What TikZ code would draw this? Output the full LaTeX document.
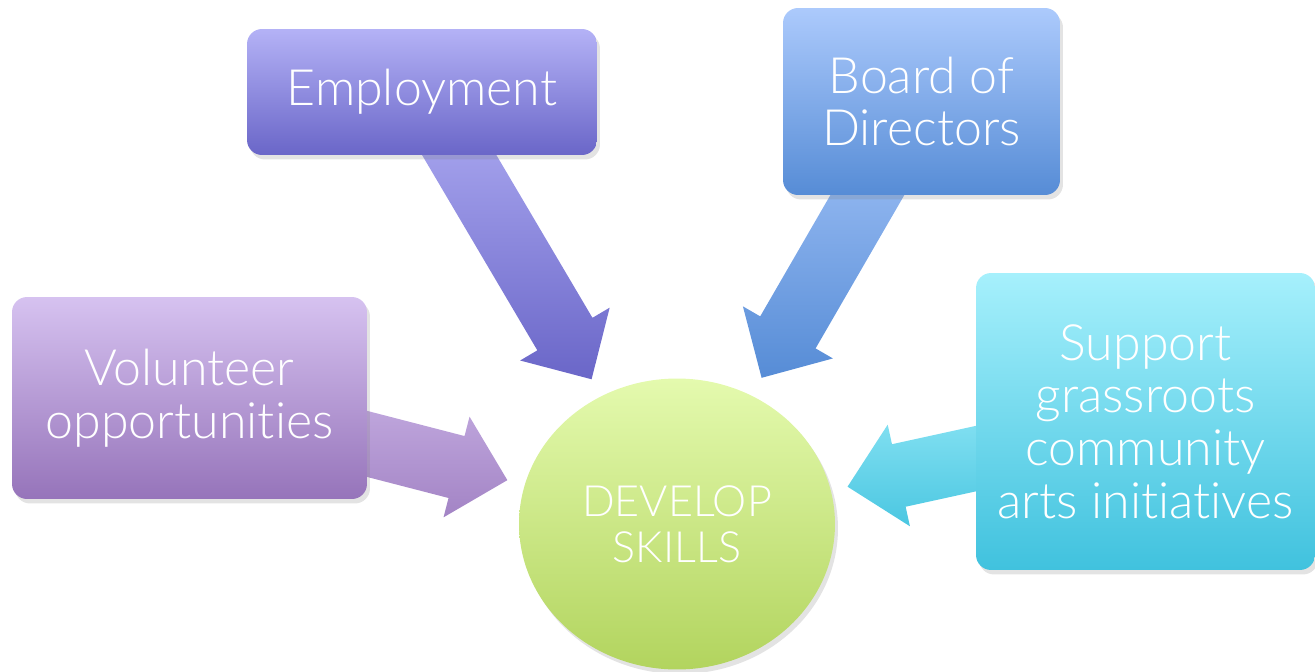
\documentclass[tikz,border=0pt]{standalone}
\usepackage{fontspec}
\setmainfont{Lato Light}[Ligatures={NoCommon,NoRequired,NoContextual}]
\usepackage{tikz}
\usetikzlibrary{calc,shapes.geometric,shadows,backgrounds}

\definecolor{empTop}{RGB}{180,178,246}
\definecolor{empBot}{RGB}{106,102,200}
\definecolor{brdTop}{RGB}{172,202,252}
\definecolor{brdBot}{RGB}{86,140,214}
\definecolor{volTop}{RGB}{214,194,240}
\definecolor{volBot}{RGB}{150,116,186}
\definecolor{supTop}{RGB}{166,240,252}
\definecolor{supBot}{RGB}{64,194,222}
\definecolor{devTop}{RGB}{228,250,174}
\definecolor{devBot}{RGB}{178,212,94}

\tikzset{
  box/.style={rounded corners=0.3cm, text=white, align=center, inner sep=0pt,
    font=\fontsize{28.5}{30}\selectfont,
    drop shadow={shadow xshift=0.6mm, shadow yshift=-0.9mm, opacity=0.22}},
  hub/.style={ellipse, text=white, align=center, inner sep=0pt,
    minimum width=6.32cm, minimum height=5.82cm,
    font=\fontsize{24.5}{26}\selectfont,
    top color=devTop, bottom color=devBot,
    drop shadow={shadow xshift=0.6mm, shadow yshift=-0.9mm, opacity=0.22}},
}

% fat arrow: from, tip, shading
\newcommand{\fatarrow}[3]{%
  \coordinate (fa-c) at ($(#2)!1.05cm!(#1)$);
  \shade[#3] ($(#1)!0.64cm!90:(#2)$) -- ($(fa-c)!0.64cm!90:(#2)$)
    -- ($(fa-c)!1.04cm!90:(#2)$) -- (#2) -- ($(fa-c)!1.04cm!-90:(#2)$)
    -- ($(fa-c)!0.64cm!-90:(#2)$) -- ($(#1)!0.64cm!-90:(#2)$) -- cycle;}

\begin{document}
\begin{tikzpicture}[x=0.02cm,y=-0.02cm]
\useasboundingbox (0,0) rectangle (1315,672);

\node[hub] (dev) at (677,524) {DEVELOP\\SKILLS};

\node[box, minimum width=7cm, minimum height=2.52cm,
  top color=empTop, bottom color=empBot] (emp) at (422,92) {Employment};
\node[box, minimum width=5.54cm, minimum height=3.74cm,
  top color=brdTop, bottom color=brdBot] (brd) at (921.5,101.5) {Board of\\Directors};
\node[box, minimum width=7.1cm, minimum height=4.04cm,
  top color=volTop, bottom color=volBot] (vol) at (189.5,398) {Volunteer\\opportunities};
\node[box, minimum width=6.78cm, minimum height=5.94cm,
  top color=supTop, bottom color=supBot] (sup) at (1145.5,421.5)
  {Support\\grassroots\\community\\arts initiatives};

\coordinate (empTip) at ($(emp.center)!0.665!(dev.center)$);
\coordinate (brdTip) at ($(brd.center)!0.654!(dev.center)$);
\coordinate (volTip) at ($(vol.center)!0.652!(dev.center)$);
\coordinate (supTip) at ($(sup.center)!0.636!(dev.center)$);

\begin{scope}[on background layer]
\fatarrow{emp.center}{empTip}{top color=empTop, bottom color=empBot}
\fatarrow{brd.center}{brdTip}{top color=brdTop, bottom color=brdBot}
\fatarrow{vol.center}{volTip}{top color=volTop!80!volBot, bottom color=volBot!80!volTop}
\fatarrow{sup.center}{supTip}{top color=supTop!80!supBot, bottom color=supBot!90!supTop}
\end{scope}

\end{tikzpicture}
\end{document}
